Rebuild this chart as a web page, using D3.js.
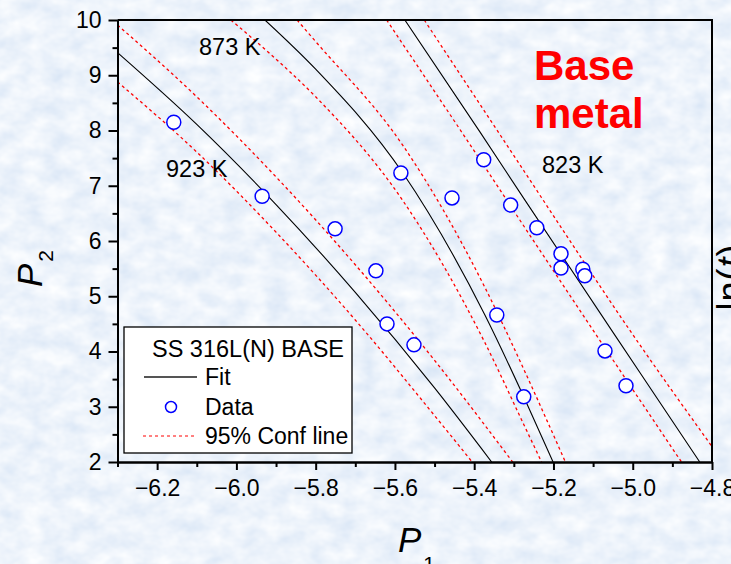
<!DOCTYPE html>
<html>
<head>
<meta charset="utf-8">
<script src="https://cdn.jsdelivr.net/npm/d3@7"></script>
<style>
  html, body { margin: 0; padding: 0; background: #d8e7f6; overflow: hidden; }
  svg { display: block; }
  text { font-family: "Liberation Sans", Arial, Helvetica, sans-serif; fill: #000; }
</style>
</head>
<body>
<svg id="chart" width="731" height="564"></svg>
<script>
// ---- axis ticks ----
const xTicks = [-6.2, -6.0, -5.8, -5.6, -5.4, -5.2, -5.0, -4.8];
const xMinorTicks = [-6.3, -6.1, -5.9, -5.7, -5.5, -5.3, -5.1, -4.9];
const yTicks = [2, 3, 4, 5, 6, 7, 8, 9, 10];
const yMinorTicks = [2.5, 3.5, 4.5, 5.5, 6.5, 7.5, 8.5, 9.5];

// ---- measured rupture data (P1, P2) ----
const dataP1 = [-6.158, -5.935, -5.751, -5.648, -5.620, -5.552,
                -5.585, -5.456, -5.343, -5.275,
                -5.376, -5.308, -5.242, -5.181, -5.181, -5.126, -5.121, -5.070, -5.017];
const dataP2 = [8.15, 6.81, 6.22, 5.46, 4.50, 4.12,
                7.23, 6.78, 4.66, 3.18,
                7.47, 6.65, 6.24, 5.77, 5.51, 5.49, 5.37, 4.01, 3.38];

// ---- fitted curves and 95% confidence bounds, per temperature ----
const fit923   = [[-6.30, 9.41], [-6.10, 8.11], [-5.90, 6.66], [-5.70, 5.07], [-5.50, 3.34], [-5.356, 2.0]];
const lower923 = [[-6.30, 8.88], [-6.10, 7.61], [-5.90, 6.16], [-5.70, 4.57], [-5.50, 2.84], [-5.405, 2.0]];
const upper923 = [[-6.30, 9.91], [-6.10, 8.61], [-5.90, 7.16], [-5.70, 5.57], [-5.50, 3.84], [-5.303, 2.0]];

const fit873   = [[-5.928, 10.0], [-5.80, 9.11], [-5.58, 7.23], [-5.373, 4.66], [-5.275, 3.18], [-5.201, 2.0]];
const lower873 = [[-6.014, 10.0], [-5.928, 9.47], [-5.80, 8.61], [-5.58, 6.73], [-5.373, 4.16], [-5.275, 2.68], [-5.230, 2.0]];
const upper873 = [[-5.847, 10.0], [-5.80, 9.61], [-5.58, 7.73], [-5.373, 5.16], [-5.275, 3.68], [-5.170, 2.0]];

const fit823   = [[-5.575, 10.0], [-5.386, 7.98], [-5.272, 6.74], [-4.982, 3.62], [-4.831, 2.0]];
const lower823 = [[-5.621, 10.0], [-5.386, 7.48], [-5.272, 6.24], [-4.982, 3.12], [-4.877, 2.0]];
const upper823 = [[-5.526, 10.0], [-5.386, 8.48], [-5.272, 7.24], [-4.982, 4.12], [-4.800, 2.28]];

const fitCurves = [fit923, fit873, fit823];
const confCurves = [lower923, upper923, lower873, upper873, lower823, upper823];

const tempLabels = ["873 K", "923 K", "823 K"];
const legendTitle = "SS 316L(N) BASE";
const legendItems = ["Fit", "Data", "95% Conf line"];

// ---- layout ----
const W = 731, H = 564;
const plot = { left: 117.5, right: 712, top: 20, bottom: 462 };

const svg = d3.select("#chart");

// light-blue mottled paper backdrop
const defs = svg.append("defs");
const tex = defs.append("filter").attr("id", "paper")
  .attr("x", 0).attr("y", 0).attr("width", "100%").attr("height", "100%");
tex.append("feTurbulence").attr("type", "fractalNoise")
  .attr("baseFrequency", "0.045 0.06").attr("numOctaves", 3).attr("seed", 11).attr("result", "n");
tex.append("feColorMatrix").attr("in", "n").attr("type", "matrix")
  .attr("values", "0.34 0 0 0 0.68  0.24 0 0 0 0.78  0.10 0 0 0 0.915  0 0 0 0 1");
defs.append("clipPath").attr("id", "plotClip")
  .append("rect").attr("x", plot.left).attr("y", plot.top)
  .attr("width", plot.right - plot.left).attr("height", plot.bottom - plot.top);

svg.append("rect").attr("width", W).attr("height", H).attr("fill", "#d8e7f6");
svg.append("rect").attr("width", W).attr("height", H).attr("filter", "url(#paper)");

const x = d3.scaleLinear().domain([-6.3, -4.8]).range([plot.left, plot.right]);
const y = d3.scaleLinear().domain([2, 10]).range([plot.bottom, plot.top]);

// ---- curves ----
const line = d3.line().x(d => x(d[0])).y(d => y(d[1])).curve(d3.curveMonotoneX);
const curves = svg.append("g").attr("clip-path", "url(#plotClip)");

curves.selectAll("path.conf").data(confCurves).join("path")
  .attr("class", "conf").attr("d", line)
  .attr("fill", "none").attr("stroke", "#ff0000").attr("stroke-width", 1.3)
  .attr("stroke-dasharray", "3,3");

curves.selectAll("path.fit").data(fitCurves).join("path")
  .attr("class", "fit").attr("d", line)
  .attr("fill", "none").attr("stroke", "#000").attr("stroke-width", 1.1);

// ---- data points ----
svg.append("g").selectAll("circle").data(dataP1.map((p, i) => [p, dataP2[i]])).join("circle")
  .attr("cx", d => x(d[0])).attr("cy", d => y(d[1])).attr("r", 7)
  .attr("fill", "#fff").attr("stroke", "#0000ff").attr("stroke-width", 1.5);

// ---- axes ----
const axisFont = g => g.selectAll("text")
  .style("font-family", '"Liberation Sans", Arial, sans-serif')
  .style("font-size", "23px").attr("fill", "#000");

const xAxis = svg.append("g").attr("transform", `translate(0,${plot.bottom})`)
  .call(d3.axisBottom(x).tickValues(xTicks).tickFormat(d3.format(".1f"))
    .tickSize(8).tickPadding(10).tickSizeOuter(0));
xAxis.call(axisFont);
svg.append("g").attr("transform", `translate(0,${plot.bottom})`)
  .call(d3.axisBottom(x).tickValues(xMinorTicks).tickFormat("").tickSize(5).tickSizeOuter(0));

const yAxis = svg.append("g").attr("transform", `translate(${plot.left},0)`)
  .call(d3.axisLeft(y).tickValues(yTicks).tickFormat(d3.format("d"))
    .tickSize(9).tickPadding(7).tickSizeOuter(0));
yAxis.call(axisFont);
svg.append("g").attr("transform", `translate(${plot.left},0)`)
  .call(d3.axisLeft(y).tickValues(yMinorTicks).tickFormat("").tickSize(5).tickSizeOuter(0));

svg.selectAll(".domain").attr("stroke", "#000").attr("stroke-width", 2);
svg.selectAll(".tick line").attr("stroke", "#000").attr("stroke-width", 2);

// frame top/right
svg.append("path")
  .attr("d", `M${plot.left},${plot.top}H${plot.right}V${plot.bottom}`)
  .attr("fill", "none").attr("stroke", "#000").attr("stroke-width", 2);

// ---- axis titles ----
const xTitle = svg.append("text").attr("x", 398).attr("y", 552);
xTitle.append("tspan").text("P").style("font-style", "italic").style("font-size", "35px");
xTitle.append("tspan").text("1").attr("dx", 2).attr("dy", 19).style("font-size", "21px");

const yTitle = svg.append("text").attr("transform", "translate(42,287) rotate(-90)");
yTitle.append("tspan").text("P").style("font-style", "italic").style("font-size", "35px");
yTitle.append("tspan").text("2").attr("dx", 2).attr("dy", 11).style("font-size", "21px");

const rTitle = svg.append("text").attr("transform", "translate(743,277) rotate(-90)")
  .attr("text-anchor", "middle").style("font-size", "36px").style("letter-spacing", "1px");
rTitle.append("tspan").text("ln(");
rTitle.append("tspan").text("t").style("font-style", "italic");
rTitle.append("tspan").text(")");

// ---- temperature labels ----
const tempPos = [[199, 55], [166, 177], [542, 173]];
svg.append("g").selectAll("text").data(tempLabels).join("text")
  .attr("x", (d, i) => tempPos[i][0]).attr("y", (d, i) => tempPos[i][1])
  .style("font-size", "23.5px").text(d => d);

// ---- annotation ----
const note = svg.append("text")
  .style("font-size", "42px").style("font-weight", "bold").style("fill", "#ff0000");
note.append("tspan").attr("x", 534).attr("y", 80).text("Base");
note.append("tspan").attr("x", 534).attr("y", 128).text("metal");

// ---- legend ----
const lg = svg.append("g");
lg.append("rect").attr("x", 124).attr("y", 327).attr("width", 228).attr("height", 126)
  .attr("fill", "#fff").attr("stroke", "#000").attr("stroke-width", 1.3);
lg.append("text").attr("x", 248).attr("y", 357).attr("text-anchor", "middle")
  .style("font-size", "23.5px").text(legendTitle);
lg.append("line").attr("x1", 144).attr("x2", 197).attr("y1", 377).attr("y2", 377)
  .attr("stroke", "#555").attr("stroke-width", 2);
lg.append("circle").attr("cx", 171).attr("cy", 407).attr("r", 5.5)
  .attr("fill", "#fff").attr("stroke", "#0000ff").attr("stroke-width", 1.5);
lg.append("line").attr("x1", 143).attr("x2", 196).attr("y1", 436).attr("y2", 436)
  .attr("stroke", "#ff0000").attr("stroke-width", 1).attr("stroke-dasharray", "3,3");
const lgY = [385, 415, 444];
lg.selectAll("text.item").data(legendItems).join("text").attr("class", "item")
  .attr("x", 205).attr("y", (d, i) => lgY[i])
  .style("font-size", "23px").text(d => d);
</script>
</body>
</html>
